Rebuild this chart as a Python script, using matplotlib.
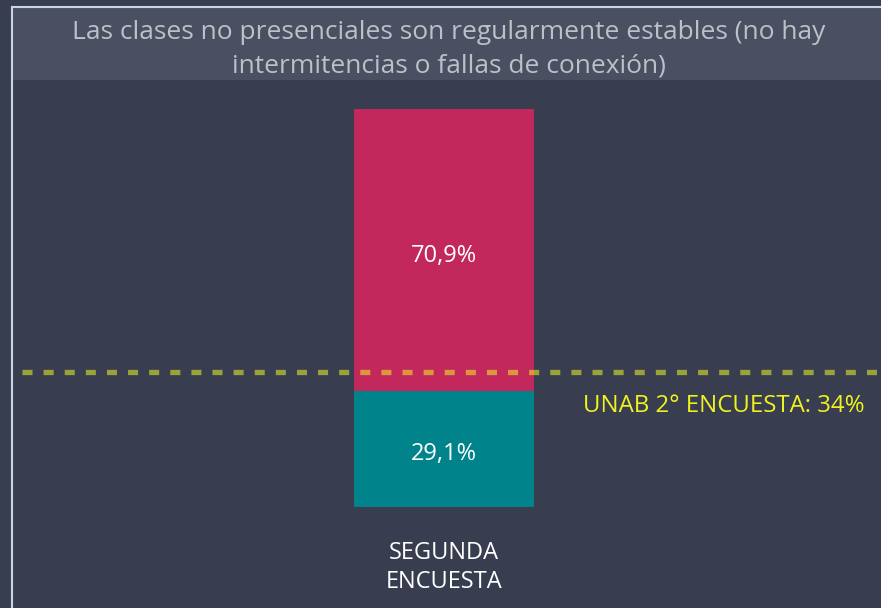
import matplotlib.pyplot as plt
from matplotlib.patches import Rectangle
from matplotlib.lines import Line2D

plt.rcParams['font.family'] = ['Open Sans', 'DejaVu Sans']

# data
categories = ['SEGUNDA\nENCUESTA']
no_values = [29.1]     # teal, bottom
si_values = [70.9]     # crimson, top
benchmark = 34
benchmark_label = 'UNAB 2° ENCUESTA: 34%'
title = 'Las clases no presenciales son regularmente estables (no hay\nintermitencias o fallas de conexión)'

bg = '#383e50'
W, H = 881, 608
fig = plt.figure(figsize=(W / 100, H / 100), dpi=100)
fig.patch.set_facecolor(bg)

# title band and frame
fig.patches.append(Rectangle((12 / W, (H - 80) / H), 1, 72 / H, transform=fig.transFigure,
                             facecolor='#4a5061', edgecolor='none', zorder=0))
fig.lines.append(Line2D([11.5 / W, 1], [(H - 7) / H] * 2, transform=fig.transFigure,
                        color='#c9d3e6', lw=1.5))
fig.lines.append(Line2D([11.5 / W] * 2, [0, (H - 7) / H], transform=fig.transFigure,
                        color='#c9d3e6', lw=1.5))
fig.text(449 / W, (H - 49) / H, title, ha='center', va='center', fontsize=19,
         color='#bcc0c8', linespacing=1.45)

ax = fig.add_axes([12 / W, 0, 1 - 12 / W, (H - 80) / H])
ax.set_facecolor(bg)
ax.patch.set_alpha(0)
x = list(range(len(categories)))
ax.bar(x, no_values, width=1, color='#00838a')
ax.bar(x, si_values, width=1, bottom=no_values, color='#c2285b')
for i in x:
    ax.text(i, no_values[i] / 2 - 1.2, f'{no_values[i]:.1f}%'.replace('.', ','), ha='center',
            va='center', color='white', fontsize=17)
    ax.text(i, no_values[i] + si_values[i] / 2 - 1.5, f'{si_values[i]:.1f}%'.replace('.', ','),
            ha='center', va='center', color='white', fontsize=17)
    ax.text(i, -15.2, categories[i], ha='center', va='center', color='white', fontsize=17,
            linespacing=1.3)

ax.axhline(benchmark, xmin=(22 - 12) / (W - 12), xmax=1, color='#f5ff25', alpha=0.52, lw=3.8,
           linestyle=(0, (1.9, 2.1)))
ax.text(2.339, benchmark - 8.5, benchmark_label, ha='right', va='center', color='#f0f21e',
        fontsize=17.3)

ax.set_xlim(-2.4, 2.428)
ax.set_ylim(-25.38, 107.29)
ax.axis('off')

fig.savefig('out.png', dpi=100, facecolor=bg)
